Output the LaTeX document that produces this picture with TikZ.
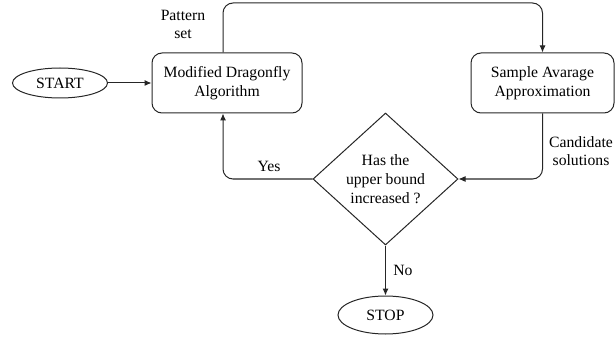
\documentclass[tikz,border=0pt]{standalone}
\usepackage{fontspec}
\setmainfont{Liberation Serif}
\usetikzlibrary{shapes.geometric,arrows.meta}
\tikzset{
  base/.style={draw=black!85, line width=1pt, font=\fontsize{15.7}{19}\selectfont, align=center, inner sep=0pt},
  term/.style={base, ellipse, minimum width=95pt, minimum height=30pt},
  proc/.style={base, rectangle, rounded corners=10pt, minimum height=60pt},
  decision/.style={base, diamond, minimum width=145pt, minimum height=132pt},
  conn/.style={draw=black!85, line width=1pt, -{Latex[length=7pt,width=6pt]}},
  lbl/.style={font=\fontsize{15.7}{18}\selectfont, align=center, inner sep=0pt}
}
\begin{document}
\begin{tikzpicture}[x=1pt,y=-1pt]
\useasboundingbox (0,0) rectangle (615,339);
\node[term] (start) at (60,83) {START};
\node[proc, minimum width=150pt] (mda) at (227,83) {Modified Dragonfly\\Algorithm};
\node[proc, minimum width=143pt] (saa) at (542.5,83) {Sample Avarage\\Approximation};
\node[decision] (dec) at (385.5,179) {Has the\\upper bound\\increased ?};
\node[term, minimum height=38pt] (stop) at (385.5,315) {STOP};
\coordinate (ytop) at (0,3);
\coordinate (mdaup) at ([xshift=-4pt]mda.north);
\coordinate (mdadn) at ([xshift=-4pt]mda.south);

\draw[conn] (start) -- (mda);
\draw[conn, rounded corners=10pt] (mdaup) -- (mdaup |- ytop) -- (saa.north |- ytop) -- (saa.north);
\draw[conn, rounded corners=10pt] (saa.south) |- (dec.east);
\draw[conn, rounded corners=10pt] (dec.west) -| (mdadn);
\draw[conn] (dec.south) -- (stop.north);

\node[lbl] (pat) at (183,24) {Pattern\\set};
\node[lbl] (yes) at (269,166) {Yes};
\node[lbl] (cand) at (581,151) {Candidate\\solutions};
\node[lbl] (no) at (403,270) {No};
\end{tikzpicture}
\end{document}
